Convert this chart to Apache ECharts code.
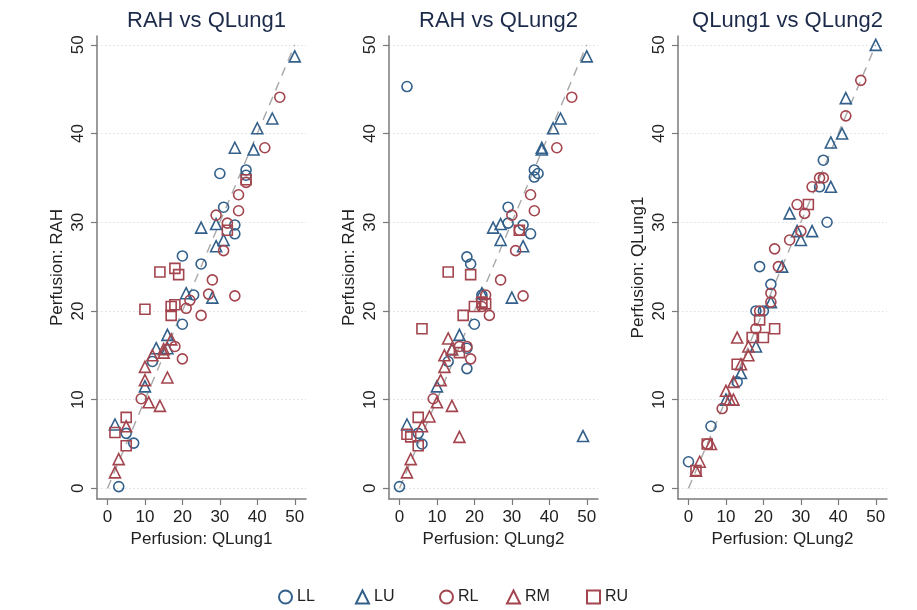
<!DOCTYPE html>
<html>
<head>
<meta charset="utf-8">
<script src="https://cdn.jsdelivr.net/npm/echarts@6/dist/echarts.min.js"></script>
<style>
  html, body { margin: 0; padding: 0; background: #ffffff; }
  #chart { width: 917px; height: 610px; }
</style>
</head>
<body>
<div id="chart"></div>
<script>
// Lung lobes and shared axis ticks
const lobes = ['LL', 'LU', 'RL', 'RM', 'RU'];
const tickValues = [0, 10, 20, 30, 40, 50];
const panelTitles = ['RAH vs QLung1', 'RAH vs QLung2', 'QLung1 vs QLung2'];
const xNames = ['Perfusion: QLung1', 'Perfusion: QLung2', 'Perfusion: QLung2'];
const yNames = ['Perfusion: RAH', 'Perfusion: RAH', 'Perfusion: QLung1'];
const identityLine = [[0, 0], [50, 50]];

// Panel 1: [QLung1, RAH]
const rahQ1_LL = [[3,0.2],[5,6.2],[7,5.1],[12,14.3],[20,18.5],[20,26.2],[23,21.8],[25,25.3],[30,35.5],[31,31.7],[34,29.7],[34,28.7],[37,35.9],[37,35.3]];
const rahQ1_LU = [[2,7.2],[10,11.5],[13,15.8],[16,15.8],[16,17.3],[21,22],[25,29.4],[28,21.5],[29,29.8],[29,27.3],[31,28],[34,38.4],[39,38.2],[40,40.6],[44,41.7],[50,48.7]];
const rahQ1_RL = [[9,10.1],[18,16],[20,14.6],[21,20.3],[22,21.2],[25,19.5],[27,21.9],[28,23.5],[29,30.8],[31,26.8],[32,29.9],[34,21.7],[35,33.1],[35,31.3],[37,34.5],[42,38.4],[46,44.1]];
const rahQ1_RM = [[2,1.8],[3,3.3],[5,7.0],[10,12.2],[10,13.7],[11,9.7],[12,15],[14,9.3],[15,15.3],[15,15.7],[16,12.5],[17,16.8]];
const rahQ1_RU = [[2,6.3],[5,4.8],[5,8.0],[10,20.2],[14,24.4],[17,20.5],[17,19.5],[18,20.7],[18,24.8],[19,24.1],[32,29.1],[37,34.8]];

// Panel 2: [QLung2, RAH]
const rahQ2_LL = [[0,0.2],[2,45.3],[5,6.2],[6,5.0],[13,14.3],[18,15.8],[18,13.5],[18,26.1],[19,25.3],[20,18.5],[22,21.8],[29,31.7],[29,29.9],[33,29.7],[35,28.7],[36,35.9],[37,35.5],[36,35.1]];
const rahQ2_LU = [[2,7.2],[10,11.5],[14,15.7],[16,17.3],[22,22],[25,29.4],[27,29.8],[27,28],[30,21.5],[33,27.3],[38,38.4],[38,38.2],[41,40.6],[43,41.7],[49,5.9],[50,48.7]];
const rahQ2_RL = [[9,10.1],[16,16],[18,16],[19,14.6],[22,20.5],[23,21.8],[24,19.5],[27,23.5],[30,30.8],[31,26.8],[32,29.1],[33,21.7],[35,33.1],[36,31.3],[42,38.4],[46,44.1]];
const rahQ2_RM = [[2,1.8],[3,3.3],[6,7],[8,8.1],[10,9.7],[11,12.2],[12,13.7],[12,15],[13,16.9],[14,9.3],[14,15.7],[16,5.8]];
const rahQ2_RU = [[2,6.1],[3,5.8],[5,4.8],[5,8],[6,18],[13,24.4],[16,15.3],[17,19.5],[19,24.1],[20,20.5],[22,21],[23,20.8],[32,29.1]];

// Panel 3: [QLung2, QLung1]
const q1Q2_LL = [[0,3],[6,7],[13,12],[18,20],[20,20],[19,25],[22,23],[35,34],[36,37],[37,30]];
const q1Q2_LU = [[10,10],[14,13],[18,16],[22,21],[25,25],[27,31],[29,29],[30,28],[33,29],[38,34],[38,39],[41,40],[42,44],[50,50]];
const q1Q2_RL = [[5,5],[9,9],[18,18],[19,20],[22,21],[22,22],[23,27],[24,25],[27,28],[29,32],[30,29],[31,31],[33,34],[35,35],[36,35],[42,42],[46,46]];
const q1Q2_RM = [[2,2],[3,3],[6,5],[10,11],[11,10],[12,10],[12,12],[14,14],[13,17],[16,15],[16,16]];
const q1Q2_RU = [[2,2],[5,5],[13,14],[17,17],[19,19],[20,17],[23,18],[32,32]];

const panelData = [
  { LL: rahQ1_LL, LU: rahQ1_LU, RL: rahQ1_RL, RM: rahQ1_RM, RU: rahQ1_RU },
  { LL: rahQ2_LL, LU: rahQ2_LU, RL: rahQ2_RL, RM: rahQ2_RM, RU: rahQ2_RU },
  { LL: q1Q2_LL, LU: q1Q2_LU, RL: q1Q2_RL, RM: q1Q2_RM, RU: q1Q2_RU }
];

// Styling
const BLUE = '#33608a';
const RED = '#a3454e';
const FONT = '"Liberation Sans", Arial, Helvetica, sans-serif';
const lobeStyle = {
  LL: { color: BLUE, symbol: 'circle', size: 10 },
  LU: { color: BLUE, symbol: 'triangle', size: 11 },
  RL: { color: RED, symbol: 'circle', size: 10 },
  RM: { color: RED, symbol: 'triangle', size: 11 },
  RU: { color: RED, symbol: 'rect', size: 10 }
};
const gridLefts = [97, 389, 678];
const gridTop = 36, gridW = 209, gridH = 463;
// left edge of each legend box in the bottom row (box has 5px padding)
const legendLefts = [273, 350, 434, 501, 581];

const grids = [], xAxes = [], yAxes = [], titles = [], series = [];

gridLefts.forEach((left, i) => {
  grids.push({ left: left, top: gridTop, width: gridW, height: gridH, containLabel: false });
  titles.push({
    text: panelTitles[i],
    left: left + gridW / 2,
    top: 5,
    textAlign: 'center',
    textStyle: { fontFamily: FONT, fontSize: 22, fontWeight: 'normal', color: '#1c2a4a' }
  });
  xAxes.push({
    type: 'value', gridIndex: i, min: -2.8, max: 53,
    name: xNames[i], nameLocation: 'middle', nameGap: 29,
    nameTextStyle: { fontFamily: FONT, fontSize: 17, color: '#222' },
    axisLine: { show: true, onZero: false, lineStyle: { color: '#7a7a7a', width: 1.5 } },
    axisTick: { show: true, inside: false, length: 6, customValues: tickValues, lineStyle: { color: '#7a7a7a', width: 1.2 } },
    axisLabel: { customValues: tickValues, margin: 10, fontFamily: FONT, fontSize: 17, color: '#222' },
    splitLine: { show: false }
  });
  yAxes.push({
    type: 'value', gridIndex: i, min: -1.2, max: 51,
    name: yNames[i], nameLocation: 'middle', nameGap: 31, nameRotate: 90,
    nameTextStyle: { fontFamily: FONT, fontSize: 17, color: '#222' },
    axisLine: { show: true, onZero: false, lineStyle: { color: '#7a7a7a', width: 1.5 } },
    axisTick: { show: true, inside: false, length: 6, customValues: tickValues, lineStyle: { color: '#7a7a7a', width: 1.2 } },
    axisLabel: { customValues: tickValues, rotate: 90, margin: 10, fontFamily: FONT, fontSize: 17, color: '#222' },
    splitLine: { show: true, lineStyle: { color: '#d9e0e8', type: [1.5, 2.5], width: 1 } }
  });
  // dashed line of equality
  series.push({
    type: 'line', xAxisIndex: i, yAxisIndex: i, data: identityLine,
    symbol: 'none', silent: true, z: 1,
    lineStyle: { color: '#a8a8a8', width: 1.4, type: [9, 7] }
  });
  lobes.forEach(lobe => {
    const st = lobeStyle[lobe];
    series.push({
      name: lobe, type: 'scatter', xAxisIndex: i, yAxisIndex: i,
      data: panelData[i][lobe],
      symbol: st.symbol, symbolSize: st.size, z: 3,
      itemStyle: { color: 'rgba(255,255,255,0)', borderColor: st.color, borderWidth: 1.6, opacity: 1 }
    });
  });
});

const legends = lobes.map((lobe, k) => ({
  data: [lobe],
  bottom: 0,
  left: legendLefts[k],
  itemWidth: 13,
  itemHeight: 13,
  itemGap: 0,
  textStyle: { fontFamily: FONT, fontSize: 16, color: '#222' }
}));

const chart = echarts.init(document.getElementById('chart'), null, { renderer: 'canvas' });
chart.setOption({
  backgroundColor: '#ffffff',
  animation: false,
  title: titles,
  grid: grids,
  xAxis: xAxes,
  yAxis: yAxes,
  legend: legends,
  series: series
});
</script>
</body>
</html>
